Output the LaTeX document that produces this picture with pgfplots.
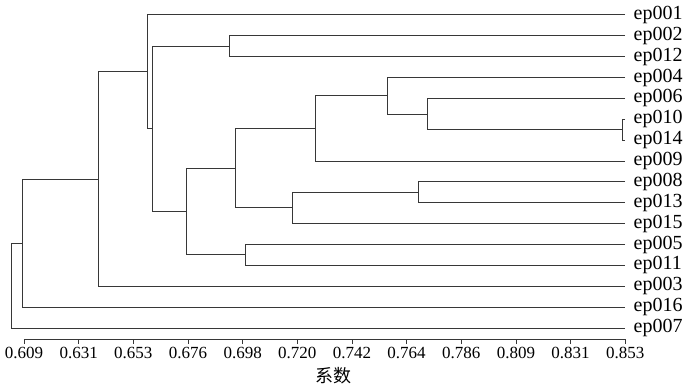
\documentclass[border=0pt]{standalone}
\usepackage{pgfplots}
\pgfplotsset{compat=1.18}
\usepackage{fontspec}
\setmainfont{Liberation Serif}
\newfontfamily\cjk{Noto Sans CJK SC}
\definecolor{dl}{RGB}{55,55,55}
\begin{document}
\begin{tikzpicture}
\path[use as bounding box] (0,-47pt) rectangle (700pt,339pt);
\begin{axis}[
  at={(0,0)}, anchor=south west,
  scale only axis, width=625.2pt, height=339pt,
  xmin=0.59926, xmax=0.853, ymin=0.473, ymax=16.716,
  clip=false,
  axis x line=bottom, axis y line=right,
  x axis line style={-, draw=dl, line width=0.8pt, shorten <=24pt},
  y axis line style={draw=none},
  /pgf/number format/assume math mode=true,
  xtick={0.609,0.63118,0.65336,0.67555,0.69773,0.71991,0.74209,0.76427,0.78645,0.80864,0.83082,0.853},
  xticklabels={0.609,0.631,0.653,0.676,0.698,0.720,0.742,0.764,0.786,0.809,0.831,0.853},
  minor x tick num=9,
  tick align=outside,
  major tick length=5pt, minor tick length=2.5pt,
  major x tick style={dl, line width=0.7pt},
  minor x tick style={dl, line width=0.6pt},
  major y tick style={draw=none},
  ytick={1,...,16},
  yticklabels={ep007,ep016,ep003,ep011,ep005,ep015,ep013,ep008,ep009,ep014,ep010,ep006,ep004,ep012,ep002,ep001},
  xticklabel style={font=\fontsize{17}{17}\selectfont, color=black},
  yticklabel style={font=\fontsize{20}{20}\selectfont, color=black, anchor=west},
  xlabel={\cjk 系数},
  xlabel style={at={(rel axis cs:0.533,0)}, anchor=north, yshift=-25pt, font=\fontsize{18}{18}\selectfont, color=black},
]
\addplot[dl, line width=1pt] coordinates {(0.853,11) (0.852,11) (0.852,10) (0.853,10)};
\addplot[dl, line width=1pt] coordinates {(0.853,12) (0.7726,12) (0.7726,10.5) (0.852,10.5)};
\addplot[dl, line width=1pt] coordinates {(0.853,13) (0.7564,13) (0.7564,11.25) (0.7726,11.25)};
\addplot[dl, line width=1pt] coordinates {(0.7564,12.125) (0.7275,12.125) (0.7275,9) (0.853,9)};
\addplot[dl, line width=1pt] coordinates {(0.853,8) (0.7693,8) (0.7693,7) (0.853,7)};
\addplot[dl, line width=1pt] coordinates {(0.7693,7.5) (0.7181,7.5) (0.7181,6) (0.853,6)};
\addplot[dl, line width=1pt] coordinates {(0.7275,10.5625) (0.6948,10.5625) (0.6948,6.75) (0.7181,6.75)};
\addplot[dl, line width=1pt] coordinates {(0.853,5) (0.699,5) (0.699,4) (0.853,4)};
\addplot[dl, line width=1pt] coordinates {(0.6948,8.65625) (0.6749,8.65625) (0.6749,4.5) (0.699,4.5)};
\addplot[dl, line width=1pt] coordinates {(0.853,15) (0.6925,15) (0.6925,14) (0.853,14)};
\addplot[dl, line width=1pt] coordinates {(0.6925,14.5) (0.6611,14.5) (0.6611,6.578125) (0.6749,6.578125)};
\addplot[dl, line width=1pt] coordinates {(0.853,16) (0.6592,16) (0.6592,10.5390625) (0.6611,10.5390625)};
\addplot[dl, line width=1pt] coordinates {(0.6592,13.26953) (0.6393,13.26953) (0.6393,3) (0.853,3)};
\addplot[dl, line width=1pt] coordinates {(0.6393,8.134766) (0.6083,8.134766) (0.6083,2) (0.853,2)};
\addplot[dl, line width=1pt] coordinates {(0.6083,5.067383) (0.6038,5.067383) (0.6038,1) (0.853,1)};
\end{axis}
\end{tikzpicture}
\end{document}
